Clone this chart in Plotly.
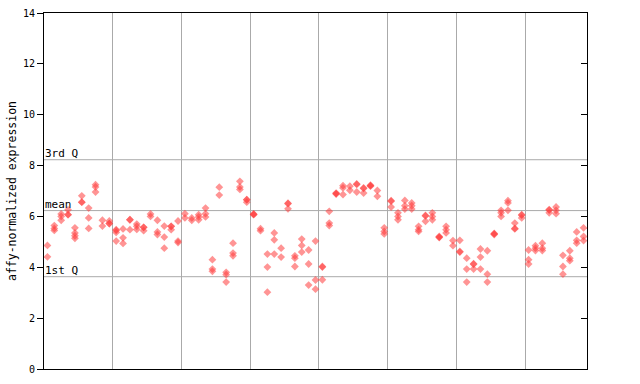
import plotly.graph_objects as go

# Expression values per sample column (8 groups of columns)
group1 = [[4.86, 4.41], [5.64, 5.53, 5.45], [6.10, 6.00, 5.85], [6.26, 6.07, 6.07],
          [5.55, 5.35, 5.24, 5.14], [6.81, 6.56, 6.56], [6.33, 5.94, 5.53],
          [7.25, 7.16, 6.96], [5.85, 5.62], [5.82, 5.72, 5.72]]
group2 = [[5.48, 5.45, 5.37, 5.03], [5.51, 5.16, 4.94], [5.87, 5.87, 5.48],
          [5.70, 5.61, 5.49], [5.57, 5.57, 5.44], [6.10, 6.00], [5.85, 5.39, 5.29],
          [5.62, 5.19, 4.75], [5.61, 5.61, 5.48], [5.82, 5.03, 4.97]]
group3 = [[6.11, 5.94], [5.94, 5.85], [6.07, 5.98, 5.87], [6.33, 6.11, 5.98],
          [4.30, 3.93, 3.84], [7.15, 6.84], [3.80, 3.71, 3.42], [4.95, 4.56, 4.45],
          [7.38, 7.16, 7.06], [6.66, 6.66, 6.56]]
group4 = [[6.10, 6.08, 6.07], [5.52, 5.44], [4.52, 4.01, 3.02], [5.35, 5.08, 4.52],
          [4.75, 4.40], [6.52, 6.50, 6.30], [4.45, 4.36, 4.03], [5.11, 4.86, 4.60],
          [4.68, 4.13, 3.30], [5.03, 3.50, 3.14]]
group5 = [[4.03, 4.01, 3.51], [6.20, 5.74, 5.64], [6.90, 6.88, 6.92], [7.21, 7.12, 6.86],
          [7.19, 7.03], [7.28, 7.26, 6.96], [7.12, 7.10, 6.92], [7.21, 7.19, 7.23],
          [7.02, 6.79], [5.55, 5.41, 5.31]]
group6 = [[6.62, 6.60, 6.37], [6.14, 6.00, 5.87], [6.63, 6.42, 6.29], [6.53, 6.42, 6.29],
          [5.61, 5.48, 5.41], [6.04, 6.02, 5.81], [6.14, 6.00, 5.87], [5.19, 5.17, 5.21],
          [5.61, 5.48, 5.35], [5.05, 4.85]]
group7 = [[5.06, 4.62, 4.60], [4.36, 3.93, 3.42], [4.14, 4.12, 3.93], [4.72, 4.40, 3.93],
          [4.65, 3.73, 3.42], [5.31, 5.29, 5.33], [6.24, 6.14, 6.00], [6.62, 6.53, 6.24],
          [5.74, 5.53, 5.51], [6.07, 6.05, 5.94]]
group8 = [[4.68, 4.30, 4.13], [4.85, 4.75, 4.66], [4.95, 4.75, 4.66], [6.27, 6.25, 6.14],
          [6.37, 6.24, 6.11], [4.47, 4.03, 3.73], [4.65, 4.36, 4.26], [5.39, 5.06, 4.95],
          [5.55, 5.21, 5.05]]

q3_value = 8.23
mean_value = 6.23
q1_value = 3.63
ref_labels = ["3rd Q", "mean", "1st Q"]
y_ticks = [0, 2, 4, 6, 8, 10, 12, 14]
y_title = "affy-normalized expression"

columns = group1 + group2 + group3 + group4 + group5 + group6 + group7 + group8
xs, ys = [], []
for i, col in enumerate(columns):
    for v in col:
        xs.append(i)
        ys.append(v)

n_cols = len(columns)
group_bounds = [i - 0.5 for i in range(10, n_cols, 10)]

mono = "DejaVu Sans Mono"
red = "rgba(255,60,60,0.55)"

L, R, T, B = 44, 53, 13, 15
W, H = 640, 384

fig = go.Figure()
fig.add_trace(go.Scatter(
    x=xs, y=ys, mode="markers",
    marker=dict(symbol="diamond", size=6, color=red, line=dict(width=0)),
    hoverinfo="skip", showlegend=False))
fig.add_trace(go.Scatter(x=[0], y=[0], yaxis="y2", mode="markers",
                         marker=dict(opacity=0), showlegend=False, hoverinfo="skip"))

for val, lab in zip([q3_value, mean_value, q1_value], ref_labels):
    fig.add_shape(type="line", xref="paper", x0=0, x1=1, yref="y", y0=val, y1=val,
                  line=dict(color="#aaaaaa", width=1), layer="below")
    fig.add_annotation(xref="paper", x=0, xanchor="left", xshift=-1, yref="y", y=val,
                       yanchor="bottom", yshift=-2, text=lab, showarrow=False,
                       font=dict(family=mono, size=11, color="black"))

# y axis title placed as rotated text left of the tick labels
fig.add_annotation(xref="paper", x=-(L - 12) / (W - L - R), xanchor="center",
                   yref="paper", y=0.5, yanchor="middle", text=y_title,
                   textangle=-90, showarrow=False,
                   font=dict(family=mono, size=11.5, color="black"))

fig.update_layout(
    width=W, height=H,
    margin=dict(l=L, r=R, t=T, b=B, autoexpand=False),
    paper_bgcolor="white", plot_bgcolor="white",
    xaxis=dict(range=[-0.5, n_cols - 0.5], tickvals=group_bounds, showticklabels=False,
               ticks="", showgrid=True, gridcolor="#aaaaaa", gridwidth=1, zeroline=False,
               showline=True, linecolor="black", linewidth=1, mirror=True,
               automargin=False),
    yaxis=dict(range=[0, 14], tickvals=y_ticks, ticktext=[str(t) for t in y_ticks],
               ticks="outside", ticklen=6, tickcolor="black", showgrid=False,
               zeroline=False, showline=True, linecolor="black", linewidth=1,
               tickfont=dict(family=mono, size=10, color="black"), automargin=False),
    yaxis2=dict(range=[0, 14], overlaying="y", side="right", tickvals=y_ticks,
                ticks="inside", ticklen=6, tickcolor="black", showticklabels=False,
                showgrid=False, zeroline=False, showline=True, linecolor="black",
                linewidth=1, automargin=False),
)

fig.write_html("out.html", config={"displayModeBar": False, "staticPlot": True},
               post_script="document.body.style.margin='0';document.body.style.padding='0';")
